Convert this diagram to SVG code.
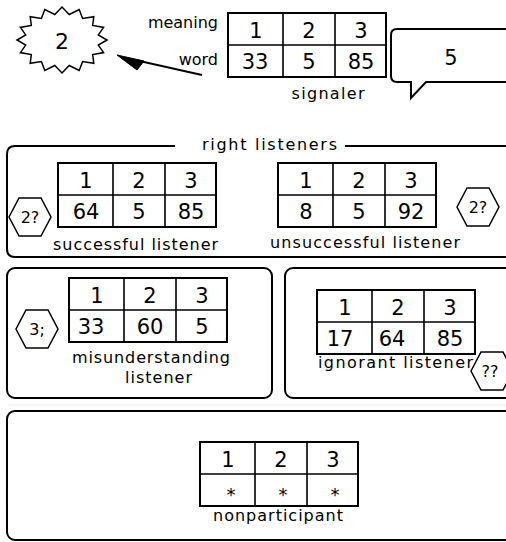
<svg xmlns="http://www.w3.org/2000/svg" width="506" height="542" viewBox="0 0 506 542">
<style>
text{font-family:"DejaVu Sans","Liberation Sans",sans-serif;fill:#000}
.lbl{font-size:16px}
.mid{text-anchor:middle}
.end{text-anchor:end}
.num{font-size:21px;text-anchor:middle}
.ast{font-size:18px;text-anchor:middle}
.box{fill:none;stroke:#000;stroke-width:2}
.frame{fill:#fff;stroke:#000;stroke-width:2}
.hex{fill:#fff;stroke:#000;stroke-width:1.5}
</style>
<defs>
<g id="tbl">
<rect class="frame" x="0" y="0" width="158" height="64"/>
<path d="M0 32H158M55 0V64M107 0V64" stroke="#000" stroke-width="1.6" fill="none"/>
</g>
<polygon id="hex" class="hex" points="-21,0 -11,-19 11,-19 21,0 11,19 -11,19"/>
</defs>
<rect width="506" height="542" fill="#fff"/>

<g id="connectors">
<line x1="202" y1="75" x2="135" y2="60" stroke="#000" stroke-width="1.8"/>
<polygon points="117,55 144,61 137,70" fill="#000" stroke="#000" stroke-width="1"/>
</g>

<g id="starburst">
<polygon points="107,40 98.3,45.1 103.6,52.6 92.7,54.5 93.8,63.3 82.6,61.6 79.2,70.5 69.2,65.5 62,73 54.8,65.5 44.8,70.5 41.4,61.6 30.2,63.3 31.3,54.5 20.4,52.6 25.7,45.1 17,40 25.7,34.9 20.4,27.4 31.3,25.5 30.2,16.7 41.4,18.4 44.8,9.5 54.8,14.5 62,7 69.2,14.5 79.2,9.5 82.6,18.4 93.8,16.7 92.7,25.5 103.6,27.4 98.3,34.9" fill="#fff" stroke="#000" stroke-width="1.5"/>
<text class="num" x="62" y="49" style="font-size:22px">2</text>
</g>

<g id="signaler">
<text class="lbl end" x="218" y="28">meaning</text>
<text class="lbl end" x="218" y="65">word</text>
<use href="#tbl" x="228" y="13"/>
<text class="num" x="256" y="38">1</text><text class="num" x="309" y="38">2</text><text class="num" x="361" y="38">3</text>
<text class="num" x="255" y="69">33</text><text class="num" x="309" y="69">5</text><text class="num" x="361" y="69">85</text>
<text class="lbl mid" x="328" y="99" textLength="73" lengthAdjust="spacing">signaler</text>
</g>

<g id="speech-bubble">
<path class="box" d="M510 29H397Q391 29 391 35V76Q391 82 397 82H411V98L426 82H510"/>
<text class="num" x="451" y="65">5</text>
</g>

<g id="right-listeners">
<path class="box" d="M175 146H15Q7 146 7 154V249Q7 257 15 257H510M345 146H510"/>
<text class="lbl" x="202" y="150" textLength="135" lengthAdjust="spacing">right listeners</text>
</g>

<g id="successful-listener">
<use href="#tbl" x="58" y="163"/>
<text class="num" x="86" y="188">1</text><text class="num" x="139" y="188">2</text><text class="num" x="191" y="188">3</text>
<text class="num" x="86" y="219">64</text><text class="num" x="139" y="219">5</text><text class="num" x="191" y="219">85</text>
<text class="lbl" x="53" y="250" textLength="165" lengthAdjust="spacing">successful listener</text>
<use href="#hex" x="30" y="217"/>
<text class="lbl mid" x="30" y="223">2?</text>
</g>

<g id="unsuccessful-listener">
<use href="#tbl" x="278" y="163"/>
<text class="num" x="306" y="188">1</text><text class="num" x="359" y="188">2</text><text class="num" x="411" y="188">3</text>
<text class="num" x="306" y="219">8</text><text class="num" x="359" y="219">5</text><text class="num" x="411" y="219">92</text>
<text class="lbl" x="270" y="248" textLength="190" lengthAdjust="spacing">unsuccessful listener</text>
<use href="#hex" x="478" y="207"/>
<text class="lbl mid" x="478" y="213">2?</text>
</g>

<g id="misunderstanding-listener">
<rect class="box" x="7" y="268" width="265" height="130" rx="8"/>
<use href="#tbl" x="69" y="278"/>
<text class="num" x="97" y="303">1</text><text class="num" x="150" y="303">2</text><text class="num" x="202" y="303">3</text>
<text class="num" x="91" y="334">33</text><text class="num" x="150" y="334">60</text><text class="num" x="202" y="334">5</text>
<text class="lbl" x="72" y="363" textLength="158" lengthAdjust="spacing">misunderstanding</text>
<text class="lbl" x="125" y="383" textLength="67" lengthAdjust="spacing">listener</text>
<use href="#hex" x="37" y="329"/>
<text class="lbl mid" x="37" y="335">3;</text>
</g>

<g id="ignorant-listener">
<rect class="box" x="285" y="268" width="240" height="130" rx="8"/>
<use href="#tbl" x="317" y="290"/>
<text class="num" x="345" y="315">1</text><text class="num" x="398" y="315">2</text><text class="num" x="450" y="315">3</text>
<text class="num" x="340" y="346">17</text><text class="num" x="392" y="346">64</text><text class="num" x="450" y="346">85</text>
<text class="lbl" x="318" y="368" textLength="155" lengthAdjust="spacing">ignorant listener</text>
<use href="#hex" x="492" y="371"/>
<text class="lbl mid" x="490" y="377">??</text>
</g>

<line x1="8" y1="405" x2="506" y2="405" stroke="#e8e8e8" stroke-width="1"/>

<g id="nonparticipant">
<rect class="box" x="7" y="411" width="520" height="129" rx="8"/>
<use href="#tbl" x="200" y="442"/>
<text class="num" x="228" y="467">1</text><text class="num" x="281" y="467">2</text><text class="num" x="333" y="467">3</text>
<text class="ast" x="231" y="501">*</text><text class="ast" x="283" y="501">*</text><text class="ast" x="335" y="501">*</text>
<text class="lbl" x="213" y="521" textLength="130" lengthAdjust="spacing">nonparticipant</text>
</g>
</svg>
